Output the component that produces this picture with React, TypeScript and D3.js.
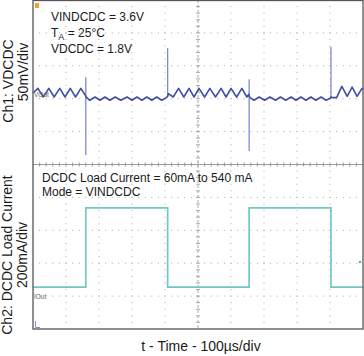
import React from "react";
import * as d3 from "d3";

// time axis in µs (100 µs/div, 10 div)
const timeDomain = [0, 1000];
// Ch1: VDCDC deviation in mV around the VOut marker (50 mV/div)
const ch1Domain = [-50, 50];
// Ch2: load current in mA (200 mA/div), zero at IOut marker
const ch2Domain = [0, 1000];

// Ch1 ripple trace [t (µs), mV]
const ch1Trace: [number, number][] = [
  [0, 3], [15, 10], [31, -3], [48, 10], [64, -3], [81, 10], [97, -3], [113, 10], [129, -3], [145, 10], [158, 0], [160, -2],
  [163, -4], [172, -8], [188, -3], [203, -8], [218, -3], [233, -8], [249, -3], [266, -8], [285, -3], [300, -8], [315, -3], [330, -8],
  [345, -3], [360, -8], [375, -3], [390, -8], [404, -4], [408, -2],
  [410, 2], [425, -3], [441, 10], [457, -3], [473, 10], [488, -3], [503, 10], [520, -3], [536, 10], [553, -3], [570, 10], [585, -3],
  [600, 10], [617, -3], [633, 10], [648, -3], [654, 1], [655, -2],
  [658, -4], [670, -8], [685, -3], [702, -8], [718, -3], [735, -8], [750, -3], [766, -8], [782, -3], [797, -8], [812, -3], [827, -8],
  [842, -3], [857, -8], [873, -3], [888, -8], [901, -5], [903, -3],
  [906, -4], [920, -4], [936, 13], [952, -2], [967, 12], [982, -2], [997, 10], [1000, 8],
];

// Ch1 transient spikes: [t, min mV, max mV]
const ch1Spikes: [number, number, number][] = [
  [160, -91, 27],
  [408, -3, 71],
  [655, -85, 24],
  [903, -3, 73],
];

// Ch2 load current steps: [t (µs), mA]
const ch2Trace: [number, number][] = [
  [0, 60], [160, 60], [160, 540], [408, 540], [408, 60], [655, 60], [655, 540], [903, 540], [903, 60], [1000, 60],
];

const infoLines1 = ["VINDCDC = 3.6V", "VDCDC = 1.8V"];
const infoLines2 = ["DCDC Load Current = 60mA to 540 mA", "Mode = VINDCDC"];
const xLabel = "t - Time - 100\u00b5s/div";

const W = 364;
const H = 356;
const L = 33, R = 363, T = 0, B = 329;
const FONT = "'Liberation Sans', Arial, Helvetica, sans-serif";

export default function App() {
  const x = d3.scaleLinear().domain(timeDomain).range([L, R]);
  const y1 = d3.scaleLinear().domain(ch1Domain).range([95 + 33, 95 - 33]);
  const y2 = d3.scaleLinear().domain(ch2Domain).range([297, 297 - 165]);

  const line1 = d3.line<[number, number]>().x(d => x(d[0])).y(d => y1(d[1]));
  const line2 = d3.line<[number, number]>().x(d => x(d[0])).y(d => y2(d[1]));

  const divX = (R - L) / 10;
  const divY = (B - T) / 10;
  const sub = 5;

  const dots: JSX.Element[] = [];
  for (let i = 1; i < 10; i++) {
    if (i === 5) continue;
    const gx = L + i * divX;
    for (let k = 1; k < 50; k++) {
      const gy = T + (k * divY) / sub;
      dots.push(<rect key={`v${i}-${k}`} x={gx - 0.5} y={gy - 0.5} width={1} height={1} fill="#aaa" />);
    }
    const gy = T + i * divY;
    for (let k = 1; k < 50; k++) {
      const gx2 = L + (k * divX) / sub;
      dots.push(<rect key={`h${i}-${k}`} x={gx2 - 0.5} y={gy - 0.5} width={1} height={1} fill="#aaa" />);
    }
  }
  const cx = L + 5 * divX;
  const cy = T + 5 * divY;
  const ticks: JSX.Element[] = [];
  for (let k = 1; k < 50; k++) {
    const tx = L + (k * divX) / sub;
    ticks.push(<line key={`tx${k}`} x1={tx} x2={tx} y1={cy - 2} y2={cy + 2} stroke="#999" strokeWidth={1} />);
    const ty = T + (k * divY) / sub;
    ticks.push(<line key={`ty${k}`} x1={cx - 2} x2={cx + 2} y1={ty} y2={ty} stroke="#aaa" strokeWidth={1} />);
  }

  return (
    <svg width={W} height={H} style={{ position: "absolute", left: 0, top: 0, background: "#fff" }} fontFamily={FONT}>
      <rect x={0} y={0} width={W} height={H} fill="#fff" />
      {dots}
      <line x1={L} x2={R} y1={cy} y2={cy} stroke="#999" strokeWidth={1} />
      <line x1={cx} x2={cx} y1={T} y2={B} stroke="#aaa" strokeWidth={1} strokeDasharray="3,2" />
      {ticks}

      {/* Ch2 trace */}
      <path d={line2(ch2Trace) || ""} fill="none" stroke="#72c6c6" strokeWidth={1.7} />
      <circle cx={360} cy={262} r={1.3} fill="#4fb5b5" />

      {/* Ch1 spikes */}
      {ch1Spikes.map((s, i) => (
        <line key={i} x1={x(s[0])} x2={x(s[0])} y1={y1(s[1])} y2={y1(s[2])} stroke="#7f8ad0" strokeWidth={1.3} />
      ))}
      {/* Ch1 trace */}
      <path d={line1(ch1Trace) || ""} fill="none" stroke="#3f4ea3" strokeWidth={1.6} strokeLinejoin="round" />

      {/* frame */}
      <rect x={L} y={T + 0.5} width={R - L} height={B - T - 0.5} fill="none" stroke="#555" strokeWidth={1.3} />

      {/* markers */}
      <rect x={35} y={3} width={4} height={5} fill="#f0a030" />
      <text x={34} y={97} fontSize={6.5} fill="#666">VOut</text>
      <text x={34} y={299} fontSize={6.5} fill="#666">IOut</text>
      <path d="M35.5,321 L35.5,327.5 L40,327.5" fill="none" stroke="#7f8ad0" strokeWidth={1} />

      {/* info text */}
      <g fontSize={12} fill="#1a1a1a">
        <text x={51} y={21}>{infoLines1[0]}</text>
        <text x={51} y={36.5}>
          <tspan>T</tspan>
          <tspan fontSize={9} dy={3}>A</tspan>
          <tspan dy={-3}> = 25°C</tspan>
        </text>
        <text x={51} y={53}>{infoLines1[1]}</text>
        <text x={42} y={182}>{infoLines2[0]}</text>
        <text x={42} y={195.5}>{infoLines2[1]}</text>
      </g>

      {/* axis labels */}
      <g fontSize={14} fill="#1a1a1a" textAnchor="middle">
        <text transform="translate(13,81) rotate(-90)">Ch1: VDCDC</text>
        <text transform="translate(28,72) rotate(-90)">50mV/div</text>
        <text transform="translate(12,255) rotate(-90)">Ch2: DCDC Load Current</text>
        <text transform="translate(27,255) rotate(-90)">200mA/div</text>
        <text x={201} y={351}>{xLabel}</text>
      </g>
    </svg>
  );
}
